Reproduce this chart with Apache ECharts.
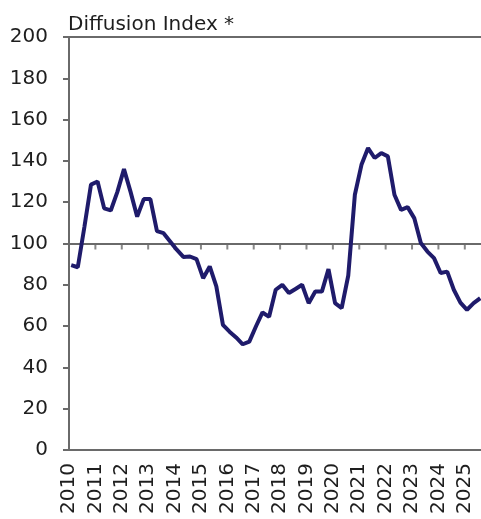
<!DOCTYPE html>
<html>
<head>
<meta charset="utf-8">
<script src="https://cdn.jsdelivr.net/npm/echarts@6/dist/echarts.min.js"></script>
<style>
html,body{margin:0;padding:0;background:#fff;}
#chart{width:481px;height:519px;}
</style>
</head>
<body>
<div id="chart"></div>
<script>
// Quarterly observations
var quarters = [
 '2010Q1','2010Q2','2010Q3','2010Q4',
 '2011Q1','2011Q2','2011Q3','2011Q4',
 '2012Q1','2012Q2','2012Q3','2012Q4',
 '2013Q1','2013Q2','2013Q3','2013Q4',
 '2014Q1','2014Q2','2014Q3','2014Q4',
 '2015Q1','2015Q2','2015Q3','2015Q4',
 '2016Q1','2016Q2','2016Q3','2016Q4',
 '2017Q1','2017Q2','2017Q3','2017Q4',
 '2018Q1','2018Q2','2018Q3','2018Q4',
 '2019Q1','2019Q2','2019Q3','2019Q4',
 '2020Q1','2020Q2','2020Q3','2020Q4',
 '2021Q1','2021Q2','2021Q3','2021Q4',
 '2022Q1','2022Q2','2022Q3','2022Q4',
 '2023Q1','2023Q2','2023Q3','2023Q4',
 '2024Q1','2024Q2','2024Q3','2024Q4',
 '2025Q1','2025Q2','2025Q3'
];
var diffusionIndex = [
 89.5, 88.5, 108, 128.5,
 130, 117, 116, 125,
 136, 125, 113, 121.5,
 121.5, 106, 105, 101,
 97, 93.5, 93.7, 92.4,
 83.2, 88.9, 79.2, 60.6,
 57.3, 54.5, 51.2, 52.5,
 59.8, 66.6, 64.5, 77.6,
 80, 76, 78, 80,
 71.1, 76.7, 76.7, 87.6,
 71.1, 68.7, 84.5, 123.6,
 138.1, 146.2, 141.4, 143.8,
 142.2, 123.6, 116.3, 117.6,
 112.3, 100.2, 96.1, 92.9,
 85.7, 86.4, 77.6, 71.4,
 67.9, 71.1, 73.5
];
var yTicks = [0, 20, 40, 60, 80, 100, 120, 140, 160, 180, 200];
var yearLabels = ['2010','2011','2012','2013','2014','2015','2016','2017','2018','2019','2020','2021','2022','2023','2024','2025'];
var titleText = 'Diffusion Index *';
var referenceLevel = 100;

// place each quarter at mid-quarter (second month) as a decimal year
function quarterPos(q) {
  var y = parseInt(q.slice(0, 4), 10);
  var n = parseInt(q.slice(5), 10);
  return y + (1 / 12) + (n - 1) * 0.25;
}
var seriesData = quarters.map(function (q, i) { return [quarterPos(q), diffusionIndex[i]]; });
// year tick marks hanging below the reference line (skip the first, it sits on the y axis)
var refTickData = yearLabels.slice(1).map(function (y) { return [parseInt(y, 10), referenceLevel]; });

var FONT = 'DejaVu Sans';
var AXIS_COLOR = '#6a6a6a';
var TEXT_COLOR = '#1e1e1e';

var chart = echarts.init(document.getElementById('chart'), null, {renderer: 'canvas'});
chart.setOption({
  animation: false,
  backgroundColor: '#ffffff',
  title: {
    text: titleText,
    left: 63,
    top: 10,
    textStyle: {fontFamily: FONT, fontSize: 20, fontWeight: 'normal', color: TEXT_COLOR}
  },
  grid: [
    {left: 69, width: 422.2, top: 37, bottom: 69, containLabel: false, outerBoundsMode: 'none'}
  ],
  xAxis: [
    {
      type: 'value', position: 'bottom',
      min: 2010, max: 2026, interval: 1,
      axisLine: {show: true, lineStyle: {color: AXIS_COLOR, width: 2}},
      axisTick: {show: false},
      splitLine: {show: false},
      axisLabel: {
        show: true, rotate: 90, margin: 13,
        fontFamily: FONT, fontSize: 20, color: TEXT_COLOR,
        formatter: function (v) {
          var s = String(Math.round(v));
          return (Math.abs(v - Math.round(v)) < 1e-6 && yearLabels.indexOf(s) >= 0) ? s : '';
        }
      }
    },
    {
      type: 'value', position: 'top',
      min: 2010, max: 2026, interval: 1,
      axisLine: {show: true, onZero: false, lineStyle: {color: AXIS_COLOR, width: 2}},
      axisTick: {show: false}, axisLabel: {show: false}, splitLine: {show: false}
    }
  ],
  yAxis: [
    {
      type: 'value',
      min: yTicks[0], max: yTicks[yTicks.length - 1], interval: 20,
      axisLine: {show: true, lineStyle: {color: AXIS_COLOR, width: 2}},
      axisTick: {show: true, inside: false, length: 6, lineStyle: {color: AXIS_COLOR, width: 2}},
      splitLine: {show: false},
      axisLabel: {margin: 21, fontFamily: FONT, fontSize: 20, color: TEXT_COLOR}
    }
  ],
  series: [
    {
      type: 'line',
      xAxisIndex: 0, yAxisIndex: 0,
      data: seriesData,
      showSymbol: false,
      smooth: false,
      lineStyle: {color: '#1f1b6b', width: 4},
      z: 3,
      markLine: {
        silent: true,
        symbol: 'none',
        label: {show: false},
        lineStyle: {color: AXIS_COLOR, width: 2, type: 'solid'},
        data: [{yAxis: referenceLevel}],
        z: 2
      }
    },
    {
      type: 'scatter',
      silent: true,
      data: refTickData,
      symbol: 'rect',
      symbolSize: [2, 6],
      symbolOffset: [0, 3],
      itemStyle: {color: AXIS_COLOR},
      z: 2
    }
  ]
});
</script>
</body>
</html>
